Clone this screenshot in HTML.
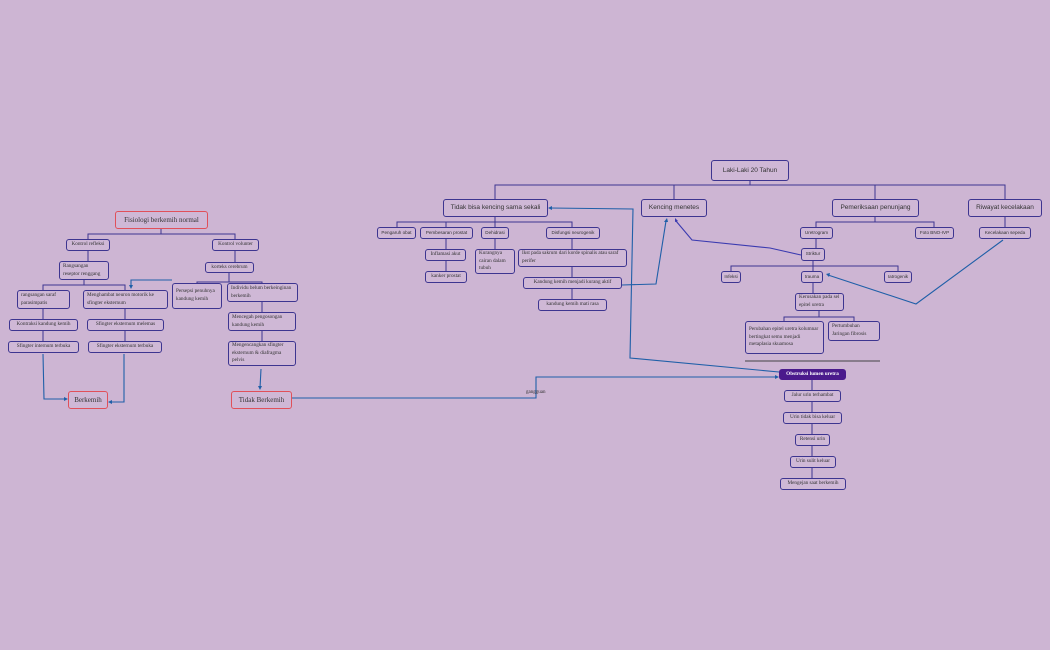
<!DOCTYPE html>
<html><head><meta charset="utf-8"><style>
body{margin:0;width:1050px;height:650px;background:#cdb5d3;position:relative;overflow:hidden;font-family:"Liberation Serif",serif;}
.b{position:absolute;box-sizing:border-box;border:1.3px solid #3d3590;border-radius:3px;background:#cfb8d6;font-size:5.2px;color:#333;padding:1px 3px;line-height:1.45;display:flex;align-items:center;overflow:hidden}
.s{font-family:"Liberation Sans",sans-serif;}
.c{justify-content:center;text-align:center}
.r{border-color:#e0505a;font-size:7px;}
.L{font-family:"Liberation Sans",sans-serif;font-size:6.5px;justify-content:center;border-width:1.5px}
svg{position:absolute;left:0;top:0}
</style></head><body>
<svg width="1050" height="650" fill="none">
<g stroke="#3d3590" stroke-width="1">
<path d="M750 180V185M495 199V185H1005V199M674 185V199M875 185V199"/>
<path d="M495 217V222M397 227V222H572V227M446 222V227M495 222V227"/>
<path d="M446 239V249M446 261V271M495 239V249M572 239V249M572 267V277M572 289V299"/>
<path d="M875 217V222M816 227V222H934V227M1005 217V227"/>
<path d="M816 239V248M813 261V266M731 271V266H898V271M813 266V271M813 283V293M819 311V317M784 321V317H854V321"/>
<path d="M812 380V390M812 402V412M812 424V434M812 446V456M812 468V478"/>
<path d="M161 229V234M88 239V234H235V239M88 251V261M235 251V262M84 280V285M43 290V285H125V290M43 309V319M43 331V341M125 309V319M125 331V341"/>
<path d="M229 273V282M197 283V282H262V283M262 302V312M262 331V341"/>
</g>
<path d="M745 361H880" stroke="#444" stroke-width="1"/>
<g stroke="#1f5fa8" stroke-width="1.1">
<path d="M43 354L44 399H66"/><path d="M124 354V402H110"/>
<path d="M172 280H131V287"/><path d="M261 369L260 388"/>
<path d="M292 398H536V377H776"/>
<path d="M779 372L630 358L633 209L550 208"/>
<path d="M622 285L656 284L666 221"/>
<path d="M1003 240L916 304L828 275"/>
</g>
<path d="M801 255L770 248L692 240L676 221" stroke="#3a3ab0" stroke-width="1.1"/>
<g fill="#1f5fa8">
<path d="M68 399l-4-2v4z"/><path d="M108 402l4-2v4z"/><path d="M131 289l-2-4h4z"/><path d="M260 390l-2-4h4z"/>
<path d="M779 377l-4-2v4z"/><path d="M548 208l4-2v4z"/><path d="M667 218l-3 4h4z"/><path d="M826 274l4-1-1 4z"/>
</g>
<path d="M675 218l0 4 3-1z" fill="#3a3ab0"/>
<text x="526" y="393" font-size="5" fill="#333" font-family="Liberation Serif">gangguan</text>
</svg>

<div class="b L c" style="left:711px;top:160px;width:78px;height:21px">Laki-Laki 20 Tahun</div>
<div class="b L c" style="left:443px;top:199px;width:105px;height:18px">Tidak bisa kencing sama sekali</div>
<div class="b L c" style="left:641px;top:199px;width:66px;height:18px">Kencing menetes</div>
<div class="b L c" style="left:832px;top:199px;width:87px;height:18px">Pemeriksaan penunjang</div>
<div class="b L c" style="left:968px;top:199px;width:74px;height:18px">Riwayat kecelakaan</div>

<div class="b s c" style="left:377px;top:227px;width:39px;height:12px;font-size:4.6px">Pengaruh obat</div>
<div class="b s c" style="left:420px;top:227px;width:53px;height:12px;font-size:4.6px">Pembesaran prostat</div>
<div class="b s c" style="left:481px;top:227px;width:28px;height:12px;font-size:4.6px">Dehidrasi</div>
<div class="b s c" style="left:546px;top:227px;width:54px;height:12px;font-size:4.6px">Disfungsi neurogenik</div>
<div class="b c" style="left:425px;top:249px;width:41px;height:12px">Inflamasi akut</div>
<div class="b c" style="left:425px;top:271px;width:42px;height:12px">kanker prostat</div>
<div class="b" style="left:475px;top:249px;width:40px;height:25px">Kurangnya cairan dalam tubuh</div>
<div class="b" style="left:518px;top:249px;width:109px;height:18px">Ikst pada sakrum dari korde spinalis atau saraf perifer</div>
<div class="b c" style="left:523px;top:277px;width:99px;height:12px">Kandung kemih menjadi kurang aktif</div>
<div class="b c" style="left:538px;top:299px;width:69px;height:12px">kandung kemih mati rasa</div>

<div class="b s c" style="left:800px;top:227px;width:33px;height:12px;font-size:4.6px">Uretrogram</div>
<div class="b s c" style="left:915px;top:227px;width:39px;height:12px;font-size:4.6px">Foto BNO-IVP</div>
<div class="b s c" style="left:979px;top:227px;width:52px;height:12px;font-size:4.6px">Kecelakaan sepeda</div>
<div class="b s c" style="left:801px;top:248px;width:24px;height:13px;font-size:4.6px">Striktur</div>
<div class="b s c" style="left:721px;top:271px;width:20px;height:12px;font-size:4.6px">Infeksi</div>
<div class="b s c" style="left:801px;top:271px;width:22px;height:12px;font-size:4.6px">trauma</div>
<div class="b s c" style="left:884px;top:271px;width:28px;height:12px;font-size:4.6px">Iatrogenik</div>
<div class="b" style="left:795px;top:293px;width:49px;height:18px">Kerusakan pada sel epitel uretra</div>
<div class="b" style="left:745px;top:321px;width:79px;height:33px">Perubahan epitel uretra kolumnar bertingkat semu menjadi metaplasia skuamosa</div>
<div class="b" style="left:828px;top:321px;width:52px;height:20px">Pertumbuhan Jaringan fibrosis</div>

<div class="b c" style="left:779px;top:369px;width:67px;height:11px;background:#4a1a8c;border-color:#4a1a8c;color:#fff;font-weight:bold">Obstruksi lumen uretra</div>
<div class="b c" style="left:784px;top:390px;width:57px;height:12px">Jalur urin terhambat</div>
<div class="b c" style="left:783px;top:412px;width:59px;height:12px">Urin tidak bisa keluar</div>
<div class="b c" style="left:795px;top:434px;width:35px;height:12px">Retensi urin</div>
<div class="b c" style="left:790px;top:456px;width:46px;height:12px">Urin sulit keluar</div>
<div class="b c" style="left:780px;top:478px;width:66px;height:12px">Mengejan saat berkemih</div>

<div class="b r c" style="left:115px;top:211px;width:93px;height:18px">Fisiologi berkemih normal</div>
<div class="b c" style="left:66px;top:239px;width:44px;height:12px">Kontrol refleksi</div>
<div class="b c" style="left:212px;top:239px;width:47px;height:12px">Kontrol volunter</div>
<div class="b" style="left:59px;top:261px;width:50px;height:19px">Rangsangan reseptor renggang</div>
<div class="b" style="left:17px;top:290px;width:53px;height:19px">rangsangan saraf parasimpatis</div>
<div class="b" style="left:83px;top:290px;width:85px;height:19px">Menghambat neuron motorik ke sfingter eksternum</div>
<div class="b c" style="left:9px;top:319px;width:69px;height:12px">Kontraksi kandung kemih</div>
<div class="b c" style="left:87px;top:319px;width:77px;height:12px">Sfingter eksternum melemas</div>
<div class="b c" style="left:8px;top:341px;width:71px;height:12px">Sfingter internum terbuka</div>
<div class="b c" style="left:88px;top:341px;width:74px;height:12px">Sfingter eksternum terbuka</div>
<div class="b r c" style="left:68px;top:391px;width:40px;height:18px">Berkemih</div>
<div class="b c" style="left:205px;top:262px;width:49px;height:11px">korteks cerebrum</div>
<div class="b" style="left:172px;top:283px;width:50px;height:26px">Persepsi penuhnya kandung kemih</div>
<div class="b" style="left:227px;top:283px;width:71px;height:19px">Individu belum berkeinginan berkemih</div>
<div class="b" style="left:228px;top:312px;width:68px;height:19px">Mencegah pengosongan kandung kemih</div>
<div class="b" style="left:228px;top:341px;width:68px;height:25px">Mengencangkan sfingter eksternum &amp; diafragma pelvis</div>
<div class="b r c" style="left:231px;top:391px;width:61px;height:18px">Tidak Berkemih</div>
</body></html>
